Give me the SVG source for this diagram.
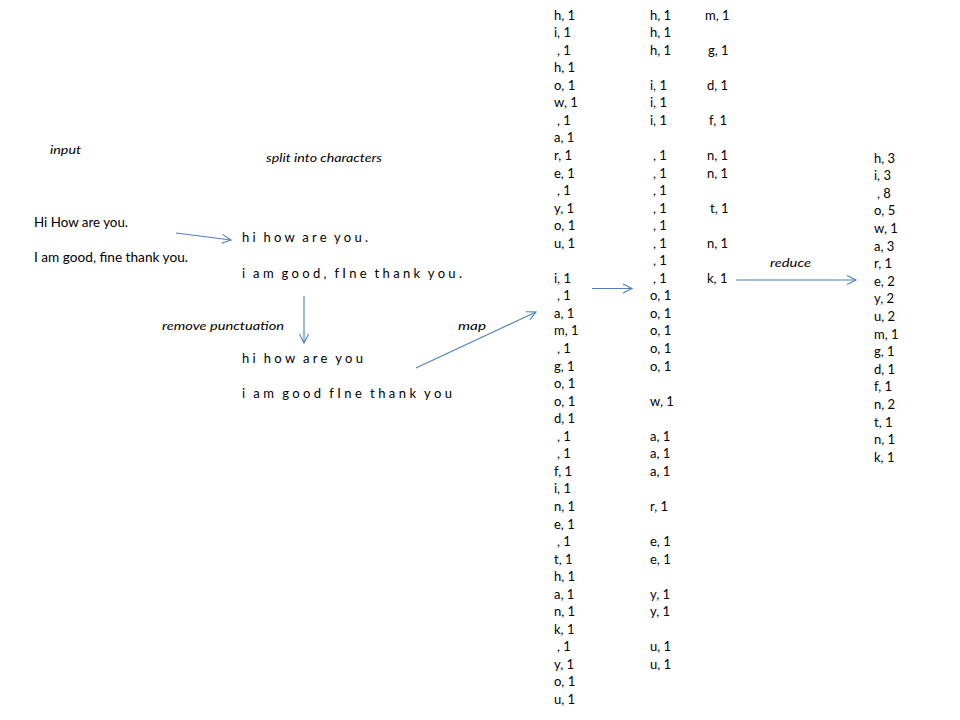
<svg xmlns="http://www.w3.org/2000/svg" width="960" height="720" viewBox="0 0 960 720">
<style>
text{font-family:Lato,"Open Sans","Liberation Sans",sans-serif;font-size:13px;fill:#000}
.it{font-style:italic;font-size:12px}
.sp{word-spacing:-2px}
.con line{stroke:#4f7fbc;stroke-width:1.1;fill:none}
</style>
<defs>
<marker id="ah" markerUnits="userSpaceOnUse" markerWidth="12" markerHeight="12" viewBox="0 0 12 12" refX="10" refY="6" orient="auto">
<path d="M1,1.5 L10,6 L1,10.5" fill="none" stroke="#4f7fbc" stroke-width="1.1"/>
</marker>
</defs>
<rect width="960" height="720" fill="#fff"/>
<g id="label-input"><text class="it" x="50" y="154" textLength="31" lengthAdjust="spacingAndGlyphs">input</text></g>
<g id="input-text">
<text x="34" y="227" textLength="94" lengthAdjust="spacingAndGlyphs">Hi How are you.</text>
<text x="34" y="262" textLength="154" lengthAdjust="spacingAndGlyphs">I am good, fine thank you.</text>
</g>
<g id="label-split"><text class="it" x="266" y="162" textLength="116" lengthAdjust="spacingAndGlyphs">split into characters</text></g>
<g id="split-text">
<text class="sp" x="242" y="242" textLength="126" lengthAdjust="spacing">hi how are you.</text>
<text class="sp" x="242" y="278" textLength="220" lengthAdjust="spacing">i am good, fIne thank you.</text>
</g>
<g id="label-remove"><text class="it" x="162" y="330" textLength="122" lengthAdjust="spacingAndGlyphs">remove punctuation</text></g>
<g id="clean-text">
<text class="sp" x="242" y="363" textLength="121" lengthAdjust="spacing">hi how are you</text>
<text class="sp" x="242" y="398" textLength="210" lengthAdjust="spacing">i am good fIne thank you</text>
</g>
<g id="label-map"><text class="it" x="458" y="330" textLength="28" lengthAdjust="spacingAndGlyphs">map</text></g>
<g id="map-output">
<text x="554" y="19.5">h, 1</text>
<text x="554" y="37.1">i, 1</text>
<text x="557" y="54.6">, 1</text>
<text x="554" y="72.2">h, 1</text>
<text x="554" y="89.7">o, 1</text>
<text x="554" y="107.3">w, 1</text>
<text x="557" y="124.8">, 1</text>
<text x="554" y="142.4">a, 1</text>
<text x="554" y="159.9">r, 1</text>
<text x="554" y="177.5">e, 1</text>
<text x="557" y="195">, 1</text>
<text x="554" y="212.6">y, 1</text>
<text x="554" y="230.1">o, 1</text>
<text x="554" y="247.7">u, 1</text>
<text x="554" y="282.8">i, 1</text>
<text x="557" y="300.3">, 1</text>
<text x="554" y="317.9">a, 1</text>
<text x="554" y="335.4">m, 1</text>
<text x="557" y="353">, 1</text>
<text x="554" y="370.5">g, 1</text>
<text x="554" y="388.1">o, 1</text>
<text x="554" y="405.6">o, 1</text>
<text x="554" y="423.2">d, 1</text>
<text x="557" y="440.7">, 1</text>
<text x="557" y="458.3">, 1</text>
<text x="554" y="475.8">f, 1</text>
<text x="554" y="493.4">i, 1</text>
<text x="554" y="510.9">n, 1</text>
<text x="554" y="528.5">e, 1</text>
<text x="557" y="546">, 1</text>
<text x="554" y="563.6">t, 1</text>
<text x="554" y="581.1">h, 1</text>
<text x="554" y="598.7">a, 1</text>
<text x="554" y="616.2">n, 1</text>
<text x="554" y="633.8">k, 1</text>
<text x="557" y="651.3">, 1</text>
<text x="554" y="668.9">y, 1</text>
<text x="554" y="686.4">o, 1</text>
<text x="554" y="704">u, 1</text>
</g>
<g id="shuffle-a">
<text x="650" y="19.5">h, 1</text>
<text x="650" y="37.1">h, 1</text>
<text x="650" y="54.6">h, 1</text>
<text x="650" y="89.7">i, 1</text>
<text x="650" y="107.3">i, 1</text>
<text x="650" y="124.8">i, 1</text>
<text x="653" y="159.9">, 1</text>
<text x="653" y="177.5">, 1</text>
<text x="653" y="195">, 1</text>
<text x="653" y="212.6">, 1</text>
<text x="653" y="230.1">, 1</text>
<text x="653" y="247.7">, 1</text>
<text x="653" y="265.2">, 1</text>
<text x="653" y="282.8">, 1</text>
<text x="650" y="300.3">o, 1</text>
<text x="650" y="317.9">o, 1</text>
<text x="650" y="335.4">o, 1</text>
<text x="650" y="353">o, 1</text>
<text x="650" y="370.5">o, 1</text>
<text x="650" y="405.6">w, 1</text>
<text x="650" y="440.7">a, 1</text>
<text x="650" y="458.3">a, 1</text>
<text x="650" y="475.8">a, 1</text>
<text x="650" y="510.9">r, 1</text>
<text x="650" y="546">e, 1</text>
<text x="650" y="563.6">e, 1</text>
<text x="650" y="598.7">y, 1</text>
<text x="650" y="616.2">y, 1</text>
<text x="650" y="651.3">u, 1</text>
<text x="650" y="668.9">u, 1</text>
</g>
<g id="shuffle-b">
<text x="705" y="19.5">m, 1</text>
<text x="708" y="54.6">g, 1</text>
<text x="707" y="89.7">d, 1</text>
<text x="709" y="124.8">f, 1</text>
<text x="707" y="159.9">n, 1</text>
<text x="707" y="177.5">n, 1</text>
<text x="710" y="212.6">t, 1</text>
<text x="707" y="247.7">n, 1</text>
<text x="707" y="282.8">k, 1</text>
</g>
<g id="label-reduce"><text class="it" x="770" y="267" textLength="41" lengthAdjust="spacingAndGlyphs">reduce</text></g>
<g id="reduce-output">
<text x="874" y="162.5">h, 3</text>
<text x="874" y="180.1">i, 3</text>
<text x="877" y="197.7">, 8</text>
<text x="874" y="215.3">o, 5</text>
<text x="874" y="232.9">w, 1</text>
<text x="874" y="250.5">a, 3</text>
<text x="874" y="268.1">r, 1</text>
<text x="874" y="285.7">e, 2</text>
<text x="874" y="303.3">y, 2</text>
<text x="874" y="320.9">u, 2</text>
<text x="874" y="338.5">m, 1</text>
<text x="874" y="356.1">g, 1</text>
<text x="874" y="373.7">d, 1</text>
<text x="874" y="391.3">f, 1</text>
<text x="874" y="408.9">n, 2</text>
<text x="874" y="426.5">t, 1</text>
<text x="874" y="444.1">n, 1</text>
<text x="874" y="461.7">k, 1</text>
</g>
<g id="connectors" class="con">
<line x1="176" y1="233" x2="231" y2="240" marker-end="url(#ah)"/>
<line x1="304" y1="296" x2="304" y2="343" marker-end="url(#ah)"/>
<line x1="416" y1="368" x2="536" y2="312" marker-end="url(#ah)"/>
<line x1="592" y1="288.5" x2="632" y2="288.5" marker-end="url(#ah)"/>
<line x1="736" y1="280" x2="856" y2="280" marker-end="url(#ah)"/>
</g>
</svg>
